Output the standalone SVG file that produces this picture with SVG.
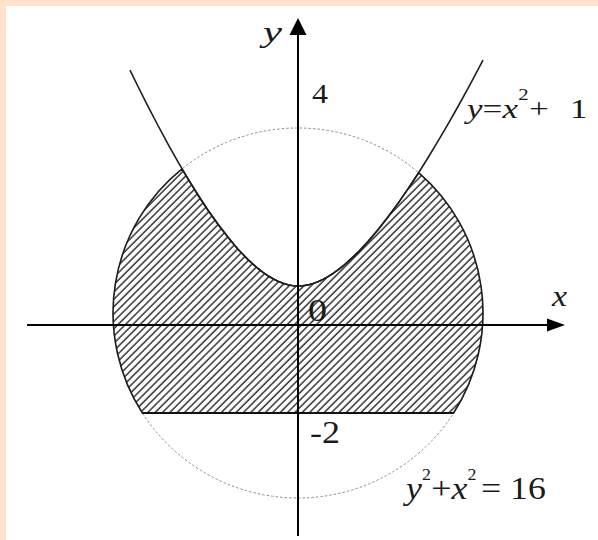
<svg xmlns="http://www.w3.org/2000/svg" width="598" height="540" viewBox="0 0 598 540">
  <defs>
    <pattern id="hatch" width="5.2" height="5.2" patternUnits="userSpaceOnUse" patternTransform="rotate(45)">
      <line x1="1" y1="-1" x2="1" y2="7" stroke="#333" stroke-width="1.5"/>
    </pattern>
    <style>
      .axis { stroke: #000; stroke-width: 2; fill: none; }
      .curve { stroke: #1e1e1e; stroke-width: 1.6; fill: none; stroke-linejoin: round; }
      .dotted { stroke: #8c8c8c; stroke-width: 1; fill: none; stroke-dasharray: 2.5 2; }
      .lbl { fill: #1a1a1a; }
    </style>
  </defs>

  <rect x="0" y="0" width="598" height="540" fill="#ffffff"/>
  <g id="frame">
    <rect x="0" y="0" width="598" height="6" fill="#fde3cd"/>
    <rect x="0" y="0" width="6" height="540" fill="#fde3cd"/>
  </g>

  <g id="circle">
    <circle cx="298" cy="313" r="185" class="dotted"/>
  </g>

  <g id="region">
    <path d="M182,168.9 L188,178.9 198,195 208,210.2 218,224.3 228,237.3 238,249.2 248,259.6 253,264.2 258,268.5 263,272.4 268,275.8 273,278.8 278,281.3 283,283.3 288,284.8 293,285.7 298,286 303,285.7 308,284.9 313,283.5 318,281.7 323,279.35 328,276.6 333,273.45 338,269.9 343,266 348,261.7 358,252.2 368,241.5 378,229.8 388,217 398,203.4 408,188.9 418.6,172.7 A185,185 0 0 1 453.6,413 L142.4,413 A185,185 0 0 1 182,168.9 Z" fill="url(#hatch)" stroke="#1e1e1e" stroke-width="1.6" stroke-linejoin="round"/>
    <line x1="142.4" y1="413" x2="453.6" y2="413" stroke="#111" stroke-width="2"/>
  </g>

  <g id="parabola">
    <polyline class="curve" points="130,70.1 138,86.5 148,106.3 158,125.5 168,144.1 178,161.9 188,178.9 198,195 208,210.2 218,224.3 228,237.3 238,249.2 248,259.6 253,264.2 258,268.5 263,272.4 268,275.8 273,278.8 278,281.3 283,283.3 288,284.8 293,285.7 298,286 303,285.7 308,284.9 313,283.5 318,281.7 323,279.35 328,276.6 333,273.45 338,269.9 343,266 348,261.7 358,252.2 368,241.5 378,229.8 388,217 398,203.4 408,188.9 418,173.7 428,157.8 438,141.2 448,124.1 458,106.5 468,88.3 478,69.7 483,60.2"/>
  </g>

  <g id="axes">
    <line class="axis" x1="27" y1="325" x2="550" y2="325"/>
    <polygon points="565,325 547,318.5 547,331.5" fill="#000"/>
    <line class="axis" x1="298" y1="536" x2="298" y2="32"/>
    <polygon points="298,18 289.5,35 306.5,35" fill="#000"/>
  </g>

  <g id="labels" font-family="Liberation Serif, serif">
    <text class="lbl" x="263" y="42" font-size="30" font-style="italic" textLength="19" lengthAdjust="spacingAndGlyphs">y</text>
    <text class="lbl" x="552" y="306" font-size="30" font-style="italic" textLength="15" lengthAdjust="spacingAndGlyphs">x</text>
    <text class="lbl" x="312" y="103" font-size="27" textLength="16" lengthAdjust="spacingAndGlyphs">4</text>
    <text class="lbl" x="308" y="321" font-size="32" textLength="19" lengthAdjust="spacingAndGlyphs">0</text>
    <text class="lbl" x="310" y="443" font-size="32" textLength="30" lengthAdjust="spacingAndGlyphs">-2</text>
    <text class="lbl" font-size="27" transform="translate(467,118) scale(1.3,1)" y="0"><tspan font-style="italic" x="0">y</tspan><tspan x="12">=</tspan><tspan font-style="italic" x="27.4">x</tspan><tspan x="39.5" y="-18" font-size="16">2</tspan><tspan x="47.8" y="0">+</tspan><tspan x="79.2">1</tspan></text>
    <text class="lbl" font-size="32" transform="translate(406,499) scale(1.12,1)" y="0"><tspan font-style="italic" x="0">y</tspan><tspan x="14.3" y="-19" font-size="16">2</tspan><tspan x="22.5" y="0">+</tspan><tspan font-style="italic" x="40.6">x</tspan><tspan x="54.9" y="-19" font-size="16">2</tspan><tspan x="67" y="0">=</tspan><tspan x="92.9">16</tspan></text>
  </g>
</svg>
